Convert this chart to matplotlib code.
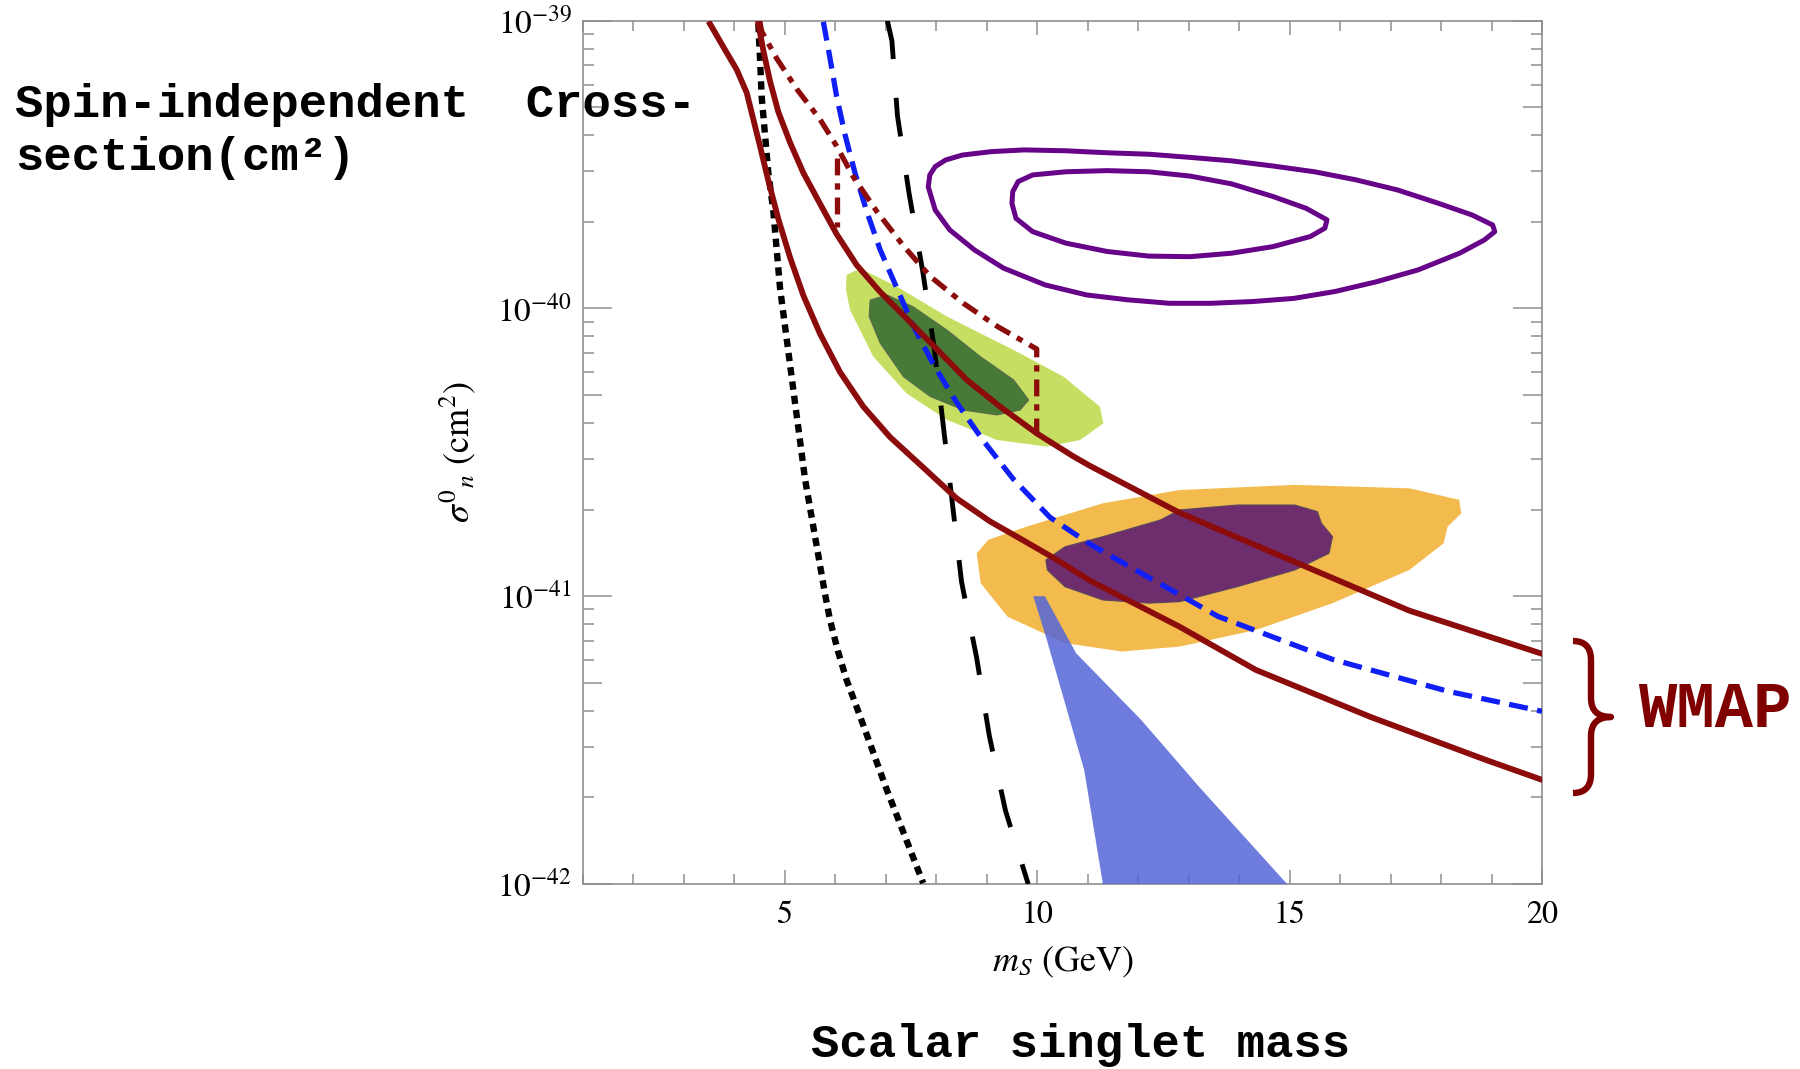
import numpy as np
import matplotlib
matplotlib.use("Agg")
import matplotlib.pyplot as plt
from matplotlib.ticker import FixedLocator, NullFormatter, MultipleLocator
from matplotlib.path import Path
from matplotlib.patches import PathPatch

# ---------------- data (m_S in GeV, log10 of sigma in cm^2) ----------------
wmap_lower_m = [3.516, 3.780, 4.045, 4.243, 4.375, 4.507, 4.672, 4.870, 5.101, 5.366, 5.696, 6.092,
                6.554, 7.083, 7.743, 8.404, 9.064, 9.725, 10.385, 11.045, 12.82, 14.33, 16.61,
                18.89, 20.0]
wmap_lower_log = [-39.011, -39.091, -39.170, -39.250, -39.343, -39.436, -39.556, -39.689, -39.822,
                  -39.955, -40.088, -40.221, -40.341, -40.447, -40.553, -40.660, -40.740, -40.806,
                  -40.873, -40.946, -41.106, -41.256, -41.42, -41.569, -41.638]

wmap_upper_m = [4.474, 4.573, 4.705, 4.870, 5.101, 5.366, 5.696, 6.026, 6.422, 6.885, 7.413, 8.007,
                8.602, 9.262, 9.989, 10.715, 11.045, 12.82, 15.09, 17.37, 20.0]
wmap_upper_log = [-39.011, -39.104, -39.210, -39.317, -39.423, -39.529, -39.636, -39.742, -39.849,
                  -39.942, -40.035, -40.141, -40.248, -40.341, -40.434, -40.514, -40.547, -40.71,
                  -40.88, -41.05, -41.20]

dotted_m = [4.474, 4.507, 4.540, 4.606, 4.672, 4.771, 4.837, 4.903, 5.002, 5.101, 5.200, 5.300,
            5.399, 5.531, 5.663, 5.795, 5.894, 6.05, 6.22, 6.42, 7.02, 7.74]
dotted_log = [-39.011, -39.131, -39.264, -39.396, -39.529, -39.662, -39.795, -39.928, -40.061,
              -40.194, -40.327, -40.460, -40.593, -40.726, -40.859, -40.992, -41.083, -41.19,
              -41.29, -41.384, -41.673, -41.997]

longdash_m = [7.03, 7.12, 7.23, 7.46, 7.73, 7.96, 8.14, 8.32, 8.50, 8.80, 9.05, 9.37, 9.82]
longdash_log = [-39.00, -39.07, -39.33, -39.60, -39.87, -40.14, -40.41, -40.68, -40.95, -41.215,
                -41.485, -41.745, -42.00]

blue_m = [5.762, 5.894, 6.026, 6.191, 6.389, 6.620, 6.885, 7.215, 7.545, 7.941, 8.404, 8.932, 9.526,
          10.253, 11.045, 12.06, 13.58, 15.86, 18.13, 20.0]
blue_log = [-39.004, -39.131, -39.264, -39.396, -39.529, -39.662, -39.795, -39.928, -40.061, -40.194,
            -40.327, -40.460, -40.593, -40.726, -40.819, -40.92, -41.07, -41.22, -41.33, -41.40]

dashdot_m = [4.50, 4.540, 4.837, 5.233, 5.696, 6.026, 6.356, 6.818, 7.347, 7.875, 8.536, 9.196,
             9.989, 9.989]
dashdot_log = [-39.00, -39.037, -39.131, -39.237, -39.343, -39.436, -39.543, -39.662, -39.782,
               -39.888, -39.982, -40.061, -40.141, -40.434]
dashdot_branch_m = [6.026, 6.026]
dashdot_branch_log = [-39.476, -39.716]

contour_outer_m = [7.840, 7.871, 7.978, 8.185, 8.513, 9.088, 9.744, 10.566, 11.386, 12.209, 13.029,
                   13.849, 14.672, 15.492, 16.314, 17.134, 17.955, 18.613, 19.023, 19.064, 18.858,
                   18.367, 17.545, 16.724, 15.902, 15.082, 14.261, 13.439, 12.619, 11.797, 10.976,
                   10.154, 9.334, 8.759, 8.266, 7.978]
contour_outer_log = [-39.577, -39.536, -39.507, -39.484, -39.467, -39.455, -39.449, -39.452, -39.459,
                     -39.464, -39.475, -39.487, -39.505, -39.525, -39.553, -39.588, -39.635, -39.675,
                     -39.710, -39.733, -39.762, -39.808, -39.866, -39.907, -39.941, -39.965, -39.976,
                     -39.982, -39.982, -39.970, -39.953, -39.918, -39.860, -39.797, -39.727, -39.658]

contour_inner_m = [9.498, 9.514, 9.621, 9.908, 10.566, 11.386, 12.209, 13.029, 13.849, 14.672,
                   15.327, 15.740, 15.698, 15.411, 14.672, 13.849, 13.029, 12.209, 11.386, 10.566,
                   9.908, 9.579]
contour_inner_log = [-39.635, -39.594, -39.559, -39.536, -39.525, -39.521, -39.525, -39.540, -39.567,
                     -39.611, -39.652, -39.692, -39.721, -39.750, -39.785, -39.808, -39.820, -39.818,
                     -39.802, -39.773, -39.733, -39.687]

green_light_m = [6.22, 6.40, 6.62, 7.22, 8.21, 9.53, 10.52, 11.24, 11.31, 10.85, 10.19, 9.20, 8.21,
                 7.41, 6.75, 6.29, 6.21]
green_light_log = [-39.884, -39.868, -39.872, -39.924, -40.028, -40.144, -40.237, -40.341, -40.399,
                   -40.457, -40.480, -40.457, -40.387, -40.295, -40.167, -40.005, -39.935]

green_dark_m = [6.69, 7.02, 7.54, 8.21, 8.87, 9.53, 9.83, 9.66, 9.20, 8.54, 7.88, 7.35, 6.89, 6.67]
green_dark_log = [-39.971, -39.953, -39.994, -40.075, -40.167, -40.248, -40.318, -40.353, -40.370,
                  -40.353, -40.306, -40.237, -40.121, -40.028]

orange_m = [8.80, 9.03, 9.79, 11.30, 12.82, 15.10, 17.37, 18.36, 18.40, 18.13, 18.05, 17.37, 15.85,
            14.34, 12.82, 11.68, 10.55, 9.41, 8.88]
orange_log = [-40.851, -40.804, -40.758, -40.677, -40.631, -40.613, -40.625, -40.665, -40.712,
              -40.758, -40.816, -40.909, -41.024, -41.117, -41.175, -41.192, -41.163, -41.071, -40.955]

purple_fill_m = [10.17, 10.55, 11.30, 12.44, 12.82, 13.96, 15.10, 15.55, 15.63, 15.85, 15.78, 15.10,
                 13.96, 12.82, 12.21, 11.30, 10.55, 10.20]
purple_fill_log = [-40.874, -40.828, -40.793, -40.735, -40.700, -40.683, -40.683, -40.706, -40.746,
                   -40.793, -40.851, -40.909, -40.967, -41.019, -41.024, -41.013, -40.967, -40.909]

blue_wedge_m = [9.92, 10.17, 10.55, 10.93, 11.30, 14.95, 13.20, 12.06, 10.77, 10.15]
blue_wedge_log = [-41.00, -41.14, -41.372, -41.604, -42.00, -42.00, -41.661, -41.43, -41.198, -41.00]

x_ticks = [5, 10, 15, 20]
x_tick_labels = ["5", "10", "15", "20"]
y_tick_exps = [-42, -41, -40, -39]
y_tick_labels = [r"$10^{-42}$", r"$10^{-41}$", r"$10^{-40}$", r"$10^{-39}$"]

# ---------------- style ----------------
plt.rcParams["font.family"] = ["STIXGeneral", "DejaVu Serif"]
plt.rcParams["mathtext.fontset"] = "stix"

DARKRED = "#8c0c0c"
W, H = 1800, 1069

fig = plt.figure(figsize=(18, 10.69), dpi=100)
ax = fig.add_axes([583 / W, 1 - 884 / H, (1542 - 583) / W, (884 - 20.7) / H])
ax.set_yscale("log")
ax.set_xlim(1, 20)
ax.set_ylim(1e-42, 1e-39)


def sig(a):
    return 10.0 ** np.asarray(a, dtype=float)


# filled regions
ax.fill(green_light_m, sig(green_light_log), facecolor="#c6df62", edgecolor="none", zorder=1)
ax.fill(green_dark_m, sig(green_dark_log), facecolor="#467a36", edgecolor="#5a6a50", lw=0.8, zorder=2)
ax.fill(orange_m, sig(orange_log), facecolor="#f3bb4e", edgecolor="none", zorder=1)
ax.fill(purple_fill_m, sig(purple_fill_log), facecolor="#6e2d6d", edgecolor="#5c4a5c", lw=0.8, zorder=2)
ax.fill(blue_wedge_m, sig(blue_wedge_log), facecolor="#5566d8", edgecolor="none", alpha=0.85, zorder=3)

# contours
ax.fill(contour_outer_m, sig(contour_outer_log), fill=False, edgecolor="#660388", lw=3.6,
        joinstyle="round", zorder=4)
ax.fill(contour_inner_m, sig(contour_inner_log), fill=False, edgecolor="#660388", lw=3.6,
        joinstyle="round", zorder=4)

# lines
ax.plot(dotted_m, sig(dotted_log), color="black", lw=4.6, ls=(0, (1.3, 0.95)), zorder=5)
ax.plot(longdash_m, sig(longdash_log), color="black", lw=3.5, ls=(0, (8, 8)), zorder=5)
ax.plot(blue_m, sig(blue_log), color="#0f1ff5", lw=3.8, ls=(0, (3.6, 1.8)), zorder=6)
ax.plot(dashdot_m, sig(dashdot_log), color=DARKRED, lw=3.8, ls=(0, (3.2, 1.5, 1.2, 1.5)), zorder=6)
ax.plot(dashdot_branch_m, sig(dashdot_branch_log), color=DARKRED, lw=3.8,
        ls=(0, (3.2, 1.5, 1.2, 1.5)), zorder=6)
ax.plot(wmap_lower_m, sig(wmap_lower_log), color=DARKRED, lw=4.2, solid_joinstyle="round", zorder=7)
ax.plot(wmap_upper_m, sig(wmap_upper_log), color=DARKRED, lw=4.2, solid_joinstyle="round", zorder=7)

# ---------------- axes decoration ----------------
GRAY = "#8f8f8f"
for s in ax.spines.values():
    s.set_color(GRAY)
    s.set_linewidth(1.2)

ax.xaxis.set_major_locator(FixedLocator(x_ticks))
ax.set_xticklabels(x_tick_labels)
ax.xaxis.set_minor_locator(MultipleLocator(1))
ax.yaxis.set_major_locator(FixedLocator(sig(y_tick_exps)))
ax.set_yticklabels(y_tick_labels)
minor_y = [k * 10.0 ** e for e in y_tick_exps[:-1] for k in range(2, 10)]
ax.yaxis.set_minor_locator(FixedLocator(minor_y))
ax.yaxis.set_minor_formatter(NullFormatter())

ax.tick_params(axis="both", which="both", direction="in", colors=GRAY, width=1.1,
               top=True, right=True, labelcolor="black")
ax.tick_params(axis="x", which="major", length=10, pad=12, labelsize=23)
ax.tick_params(axis="x", which="minor", length=7)
ax.tick_params(axis="y", which="major", length=21, pad=8, labelsize=24)
ax.tick_params(axis="y", which="minor", length=8)

ax.set_xlabel(r"$m_S$ (GeV)", fontsize=26)
ax.xaxis.set_label_coords(0.5, -0.070)
ax.set_ylabel(r"$\sigma^{0}{}_{n}$ (cm$^{2}$)", fontsize=26)
ax.yaxis.set_label_coords(-0.110, 0.5)

fig.canvas.draw()
for t, loc in zip(ax.yaxis.get_minor_ticks(), ax.yaxis.get_minorticklocs()):
    mant = loc / 10.0 ** np.floor(np.log10(loc) + 1e-9)
    if abs(mant - 5) < 0.01:
        t.tick1line.set_markersize(14)
        t.tick2line.set_markersize(14)

# ---------------- annotations ----------------
mono = dict(family=["Liberation Mono", "DejaVu Sans Mono"], weight="bold", color="black")
fig.text(15 / W, 1 - 117 / H, "Spin-independent  Cross-", fontsize=34, va="baseline", ha="left", **mono)
fig.text(15 / W, 1 - 170 / H, "section(cm²)", fontsize=34, va="baseline", ha="left", **mono)
fig.text(1081 / W, 1 - 1057 / H, "Scalar singlet mass", fontsize=34, va="baseline", ha="center", **mono)
fig.text(1638 / W, 1 - 727 / H, "WMAP", fontsize=46, va="baseline", ha="left",
         family=["Liberation Mono", "DejaVu Sans Mono"], weight="bold", color="#800000")


def P(x, y):
    return (x / W, 1 - y / H)


verts = [P(1573, 641), P(1591, 641), P(1591, 660), P(1591, 698), P(1591, 717), P(1611, 717),
         P(1591, 717), P(1591, 736), P(1591, 774), P(1591, 793), P(1573, 793)]
codes = [Path.MOVETO, Path.CURVE3, Path.CURVE3, Path.LINETO, Path.CURVE3, Path.CURVE3,
         Path.CURVE3, Path.CURVE3, Path.LINETO, Path.CURVE3, Path.CURVE3]
fig.patches.append(PathPatch(Path(verts, codes), transform=fig.transFigure, fill=False,
                             edgecolor="#800000", lw=4.6, capstyle="butt", joinstyle="round"))

fig.savefig("out.png", dpi=100)
